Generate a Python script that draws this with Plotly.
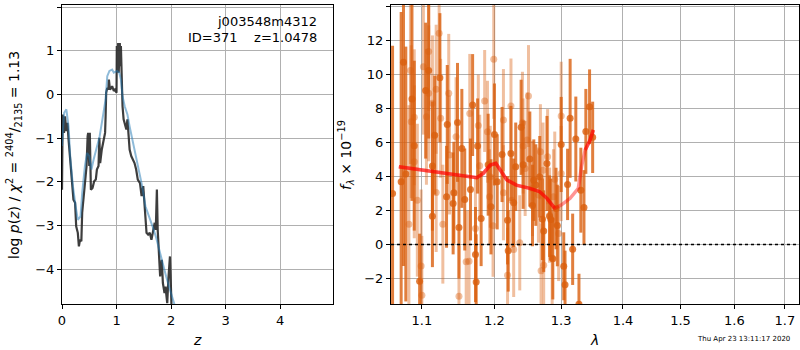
import math
import plotly.graph_objects as go

# ---------------- left panel: log p(z) ----------------
z_pz = [0.0,0.012,0.037,0.055,0.08,0.10,0.12,0.15,0.18,0.21,0.24,0.26,0.29,0.31,0.33,0.355,0.37,0.40,0.42,0.45,
        0.47,0.48,0.50,0.51,0.53,0.56,0.59,0.62,0.64,0.67,0.685,0.70,0.73,0.76,0.79,0.80,0.81,0.83,0.85,0.86,
        0.88,0.905,0.92,0.95,0.97,1.00,1.005,1.015,1.03,1.04,1.06,1.07,1.08,1.095,1.11,1.13,1.16,1.18,1.20,1.22,
        1.24,1.27,1.30,1.33,1.36,1.39,1.43,1.46,1.49,1.52,1.55,1.58,1.61,1.64,1.67,1.70,1.72,1.74,1.755,1.78,
        1.80,1.83,1.85,1.88,1.90,1.91,1.93,1.95,1.98,1.99,2.01]
logp = [-2.18,-0.46,-0.88,-0.50,-0.84,-0.65,-1.03,-1.49,-1.95,-2.41,-2.48,-3.02,-3.17,-3.48,-3.33,-3.36,-2.71,-2.26,-2.10,-1.64,
        -0.96,-0.88,-1.64,-0.88,-2.18,-2.14,-1.99,-1.95,-1.72,-1.64,-0.99,-1.57,-1.26,-1.03,-0.88,-0.50,0.04,0.15,0.11,0.34,
        0.11,0.15,0.19,0.08,0.11,0.04,1.11,0.57,1.18,0.50,1.18,0.65,1.11,0.19,-0.27,-0.57,-0.73,-0.80,-0.57,-0.88,
        -1.26,-1.41,-1.49,-1.57,-1.72,-1.95,-2.03,-2.33,-2.10,-2.56,-3.17,-3.21,-3.17,-3.33,-3.10,-2.94,-3.10,-2.18,-3.10,-3.71,
        -4.17,-3.79,-4.32,-4.55,-4.40,-4.55,-4.78,-4.24,-3.71,-4.09,-4.93]

z_prior = [0,0.04,0.08,0.12,0.15,0.20,0.25,0.29,0.34,0.37,0.42,0.46,0.50,0.54,0.58,0.63,0.69,0.75,0.80,0.83,
           0.87,0.92,0.95,1.01,1.05,1.08,1.11,1.15,1.20,1.24,1.29,1.35,1.41,1.47,1.53,1.60,1.66,1.72,1.78,1.85,
           1.91,1.98,2.04,2.10]
logp_prior = [-1.18,-0.42,-0.34,-0.73,-1.41,-2.10,-2.56,-2.87,-2.79,-2.26,-1.64,-1.34,-1.41,-1.72,-1.49,-1.26,-0.96,-0.50,-0.11,0.42,
              0.54,0.57,0.50,0.54,0.50,0.34,-0.04,-0.27,-0.46,-0.73,-1.03,-1.41,-1.72,-2.10,-2.56,-2.79,-3.02,-3.25,-3.56,-3.86,
              -4.17,-4.47,-4.74,-4.97]

# ---------------- right panel: spectrum ----------------
wave_a = [1.062,1.073,1.076,1.079,1.087,1.090,1.097,1.109,1.105,1.117,1.114,1.124,1.114,1.133,1.134,1.143,1.148,1.142,1.150,1.154,
          1.158,1.166,1.169,1.176,1.173,1.174,1.181,1.191,1.195,1.200,1.204,1.211,1.219,1.220,1.224,1.228,1.231,1.239,1.242,1.252,
          1.256,1.258,1.261,1.267,1.271,1.273,1.278,1.282,1.284,1.287,1.292,1.294,1.300,1.304,1.306,1.310,1.314,1.318,1.323,1.328,
          1.331,1.336,1.339,1.345,1.350]
flux_a = [3.0,3.69,10.73,4.15,8.57,5.82,-2.16,10.24,9.06,6.44,4.62,9.82,1.67,2.81,7.07,3.05,7.19,2.42,1.0,5.66,
          2.65,3.24,8.21,5.8,-0.59,-2.2,1.53,4.7,2.22,6.48,3.69,5.3,1.43,-0.37,5.36,2.46,4.58,6.9,4.7,5.03,
          2.3,3.79,3.5,3.99,1.49,0.79,4.77,1.67,1.47,-0.83,2.12,1.12,5.89,-1.28,-2.36,3.54,7.43,-0.28,6.21,-3.52,
          3.2,2.18,6.66,8.11,6.31]
err_a = [8.7,10.0,12.0,7.5,6.0,5.0,2.8,4.0,4.0,3.5,3.8,3.8,3.0,3.0,3.5,3.0,3.5,3.0,3.0,3.5,
         3.0,3.0,3.0,2.8,2.8,2.8,2.8,3.0,2.8,3.0,2.8,2.8,2.6,2.4,2.8,2.6,2.6,2.8,2.6,2.8,
         2.4,2.4,2.4,2.4,2.4,2.4,2.8,2.4,2.4,2.4,2.4,2.4,2.8,2.0,2.0,2.1,3.5,2.1,2.5,1.8,
         2.5,2.2,2.5,2.2,2.1]

wave_b = [1.083,1.085,1.086,1.090,1.090,1.094,1.099,1.100,1.102,1.109,1.109,1.114,1.106,1.119,1.123,1.125,1.119,1.128,1.136,1.137,
          1.146,1.150,1.160,1.164,1.165,1.177,1.173,1.179,1.186,1.190,1.194,1.199,1.198,1.193,1.213,1.219,1.224,1.213,1.228,1.225,
          1.237,1.241,1.250,1.245,1.242,1.256,1.265,1.268,1.269,1.273,1.272,1.282,1.286,1.288,1.290,1.296,1.300,1.300,1.279,1.248]
flux_b = [1.2,10.24,7.23,7.49,4.87,2.61,-1.26,-2.99,10.47,11.36,8.9,8.31,7.52,9.14,12.44,7.43,3.06,1.2,8.9,5.27,
          6.35,-3.05,-1.02,-0.98,7.72,7.0,0.94,4.64,8.45,6.64,3.99,10.9,1.1,2.81,3.05,-1.81,8.15,7.33,-0.29,2.61,
          0.1,7.17,8.74,4.48,5.8,3.3,2.91,5.46,-1.55,-1.22,4.38,1.73,-0.79,2.81,3.85,0.65,7.56,4.18,5.17,6.15]
err_b = [7.0,5.5,4.5,4.0,4.5,4.5,4.5,3.5,4.0,3.5,4.0,4.0,4.0,3.8,2.5,3.5,3.5,3.5,3.5,3.5,
         3.5,3.0,3.0,3.0,3.5,3.0,3.0,3.0,3.0,3.0,3.0,3.5,3.0,2.8,2.8,2.8,2.8,3.0,2.8,2.8,
         2.8,3.0,3.0,2.8,2.8,2.8,2.8,2.8,2.8,2.8,2.8,2.8,2.8,2.8,2.8,2.8,3.2,2.8,2.8,2.8]

model_wave = [1.070,1.101,1.138,1.175,1.184,1.194,1.202,1.208,1.218,1.232,1.252,1.267,1.278,1.290,1.300,1.314,1.327,1.332,1.338,1.346,1.351]
model_flux = [4.58,4.39,4.15,3.93,4.19,4.68,4.78,4.39,3.80,3.50,3.31,3.11,2.72,2.13,2.32,2.72,3.31,4.58,5.57,6.16,6.75]

x_ticks_right = [1.1, 1.2, 1.3, 1.4, 1.5, 1.6, 1.7]

DARK = "rgba(217,95,14,0.80)"
LIGHT = "rgba(217,95,14,0.40)"

fig = go.Figure()

# left panel
fig.add_trace(go.Scatter(x=z_pz, y=logp, mode="lines", line=dict(color="rgba(40,40,40,0.9)", width=2.2),
                         xaxis="x", yaxis="y", showlegend=False, hoverinfo="skip"))
fig.add_trace(go.Scatter(x=z_prior, y=logp_prior, mode="lines", line=dict(color="rgba(31,119,180,0.5)", width=2),
                         xaxis="x", yaxis="y", showlegend=False, hoverinfo="skip"))

# right panel
fig.add_trace(go.Scatter(x=wave_b, y=flux_b, mode="markers", marker=dict(color=LIGHT, size=7, line=dict(width=0)),
                         error_y=dict(type="data", array=err_b, color=LIGHT, thickness=3, width=0),
                         xaxis="x2", yaxis="y2", showlegend=False, hoverinfo="skip"))
fig.add_trace(go.Scatter(x=wave_a, y=flux_a, mode="markers", marker=dict(color=DARK, size=7, line=dict(width=0)),
                         error_y=dict(type="data", array=err_a, color=DARK, thickness=3, width=0),
                         xaxis="x2", yaxis="y2", showlegend=False, hoverinfo="skip"))
fig.add_trace(go.Scatter(x=model_wave, y=model_flux, mode="lines", line=dict(color="rgba(255,0,0,0.42)", width=3.5),
                         xaxis="x2", yaxis="y2", showlegend=False, hoverinfo="skip"))
fig.add_trace(go.Scatter(x=model_wave[:14], y=model_flux[:14], mode="lines", line=dict(color="rgba(255,0,0,0.5)", width=3.5),
                         xaxis="x2", yaxis="y2", showlegend=False, hoverinfo="skip"))
fig.add_trace(go.Scatter(x=model_wave[18:], y=model_flux[18:], mode="lines", line=dict(color="rgba(255,0,0,0.5)", width=3.5),
                         xaxis="x2", yaxis="y2", showlegend=False, hoverinfo="skip"))

FONT = "DejaVu Sans"
axis_common = dict(showline=True, linecolor="black", linewidth=1, mirror=True, ticks="outside", ticklen=4,
                   tickcolor="black", showgrid=True, gridcolor="#b0b0b0", gridwidth=0.8, zeroline=False,
                   automargin=False, tickfont=dict(family=FONT, size=13, color="black"))

ydom = [1 - 304 / 350, 1 - 5 / 350]


def ann(text, x, y, size=14, angle=0, xanchor="center"):
    return dict(text=text, xref="paper", yref="paper", x=x / 800, y=1 - y / 350, textangle=angle,
                xanchor=xanchor, yanchor="middle", showarrow=False, font=dict(family=FONT, size=size, color="black"))


fig.update_layout(
    width=800, height=350, margin=dict(l=0, r=0, t=0, b=0, autoexpand=False),
    paper_bgcolor="white", plot_bgcolor="white",
    font=dict(family=FONT, size=13, color="black"),
    xaxis=dict(domain=[62 / 800, 333 / 800], range=[0, 4.97], tickvals=[0, 1, 2, 3, 4], anchor="y", **axis_common),
    yaxis=dict(domain=ydom, range=[-4.8, 2.05], tickvals=[-4, -3, -2, -1, 0, 1, 2], anchor="x", **axis_common),
    xaxis2=dict(domain=[391 / 800, 799 / 800], type="log", range=[math.log10(1.06), math.log10(1.729)],
                tickvals=x_ticks_right, ticktext=[str(v) for v in x_ticks_right], anchor="y2", **axis_common),
    yaxis2=dict(domain=ydom, range=[-3.5, 14.1], tickvals=list(range(-2, 15, 2)), anchor="x2", **axis_common),
    annotations=[
        ann("<i>z</i>", 197, 340),
        ann("<i>λ</i>", 594, 340),
        ann("log <i>p</i>(<i>z</i>) / <i>χ</i><sup>2</sup> = <sup>2404</sup>/<sub>2135</sub> = 1.13", 14, 155, angle=-90),
        ann("<i>f</i><sub><i>λ</i></sub> × 10<sup>−19</sup>", 346, 155, angle=-90),
        ann("j003548m4312", 319, 22, size=13, xanchor="right"),
        ann("ID=371\u00a0\u00a0\u00a0\u00a0z=1.0478", 319, 37, size=13, xanchor="right"),
        ann("Thu Apr 23 13:11:17 2020", 743, 339, size=7),
    ],
)
fig.add_shape(type="line", xref="x2 domain", yref="y2", x0=0, x1=1, y0=0, y1=0,
              line=dict(color="black", width=1.6, dash="dot"))

fig.write_html("out.html", config={"displayModeBar": False},
               post_script="document.body.style.margin='0';document.body.style.overflow='hidden';")
